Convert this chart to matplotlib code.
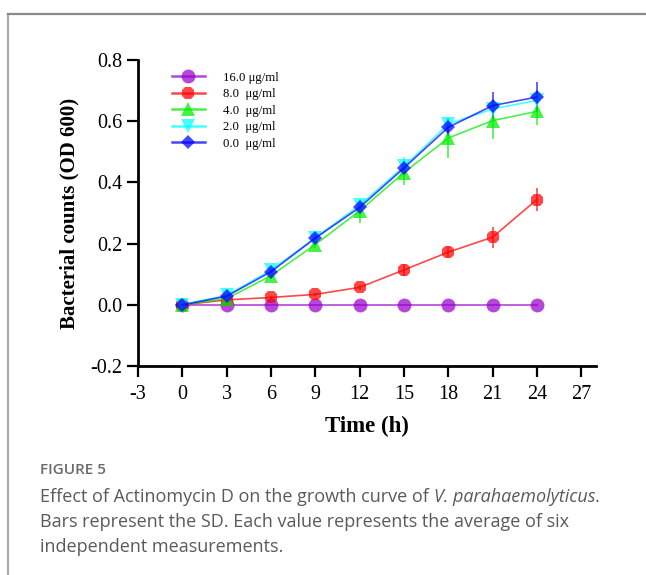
import matplotlib
matplotlib.use("Agg")
import matplotlib.pyplot as plt
from matplotlib.lines import Line2D

# Dados (media +- DP)
time_h = [0, 3, 6, 9, 12, 15, 18, 21, 24]
labels = ["16.0 μg/ml", "8.0  μg/ml", "4.0  μg/ml", "2.0  μg/ml", "0.0  μg/ml"]

od_16 = [0.0, 0.0, 0.0, 0.0, 0.0, 0.0, 0.0, 0.0, 0.0]
od_8 = [0.0, 0.016, 0.024, 0.034, 0.057, 0.114, 0.172, 0.221, 0.344]
od_4 = [0.0, 0.020, 0.095, 0.197, 0.307, 0.432, 0.545, 0.602, 0.632]
od_2 = [0.0, 0.031, 0.113, 0.219, 0.325, 0.452, 0.590, 0.640, 0.668]
od_0 = [0.0, 0.028, 0.108, 0.218, 0.318, 0.447, 0.580, 0.651, 0.679]

sd_16 = [0.0, 0.0, 0.0, 0.0, 0.0, 0.0, 0.0, 0.0, 0.0]
sd_8 = [0.0, 0.003, 0.005, 0.005, 0.008, 0.020, 0.020, 0.034, 0.038]
sd_4 = [0.0, 0.005, 0.008, 0.010, 0.040, 0.040, 0.065, 0.060, 0.045]
sd_2 = [0.0, 0.005, 0.008, 0.010, 0.020, 0.030, 0.020, 0.025, 0.030]
sd_0 = [0.0, 0.005, 0.008, 0.010, 0.015, 0.020, 0.030, 0.045, 0.050]

x_ticks = [-3, 0, 3, 6, 9, 12, 15, 18, 21, 24, 27]
y_ticks = [-0.2, 0.0, 0.2, 0.4, 0.6, 0.8]

series = [
    (od_16, sd_16, "#9900CC", "o", 10),
    (od_8, sd_8, "#FF0000", "8", 10),
    (od_4, sd_4, "#00EE00", "^", 9.5),
    (od_2, sd_2, "#00FFFF", "v", 9.5),
    (od_0, sd_0, "#0000FF", "D", 7),
]

serif = ["Liberation Serif", "DejaVu Serif"]
W, H = 646, 575

fig = plt.figure(figsize=(6.46, 5.75), dpi=100)
ax = fig.add_axes([138 / W, 1 - 366 / H, (596 - 138) / W, (366 - 60) / H])

handles = []
for (y, err, cor, mk, ms), lab in zip(series, labels):
    ax.errorbar(time_h, y, yerr=err, color=cor, marker=mk, markersize=ms,
                linewidth=1.2, elinewidth=1.2, capsize=4.5, capthick=1.2,
                alpha=0.72, markeredgewidth=0, label=lab)
    handles.append(Line2D([], [], color=cor, marker=mk, markersize=ms,
                          linewidth=1.8, alpha=0.72, markeredgewidth=0))

ax.set_xlim(-3, 28)
ax.set_ylim(-0.2, 0.8)
ax.set_xticks(x_ticks)
ax.set_yticks(y_ticks)
ax.set_xticklabels([str(v) for v in x_ticks])
ax.set_yticklabels(["%.1f" % v for v in y_ticks])

for s in ["top", "right"]:
    ax.spines[s].set_visible(False)
for s in ["left", "bottom"]:
    ax.spines[s].set_linewidth(2.0)

ax.tick_params(direction="out", length=8, width=1.6, labelsize=14.5)
ax.tick_params(axis="x", pad=6)
ax.tick_params(axis="y", pad=3)
for t in ax.get_xticklabels() + ax.get_yticklabels():
    t.set_family(serif)

ax.set_xlabel("Time (h)", fontsize=16.5, fontweight="bold", family=serif, labelpad=8)
ax.set_ylabel("Bacterial counts (OD 600)", fontsize=15, fontweight="bold", family=serif, labelpad=8)

leg = ax.legend(handles, labels, loc="upper left", bbox_to_anchor=(160 / W, 1 - 60 / H),
                bbox_transform=fig.transFigure,
                frameon=False, handlelength=2.6, handletextpad=1.4,
                labelspacing=0.36, prop={"family": serif, "size": 9.2})

# Moldura cinza da pagina
fig.add_artist(Line2D([8 / W, 8 / W], [0, 1 - 14 / H], color="#AAAAAA", linewidth=1.6))
fig.add_artist(Line2D([8 / W, 1], [1 - 14 / H, 1 - 14 / H], color="#8A8A8A", linewidth=1.6))

# Legenda da figura
sans = ["Open Sans", "DejaVu Sans"]
fs = 13
x0 = 40 / W
fig.text(x0, 1 - 470 / H, "FIGURE 5", fontsize=11, fontweight="semibold",
         color="#6A6A6A", family=sans, va="center")
renderer = fig.canvas.get_renderer()
t1 = fig.text(x0, 1 - 497 / H, "Effect of Actinomycin D on the growth curve of ",
              fontsize=fs, color="#5A5A5A", family=sans, va="center")
bb = t1.get_window_extent(renderer)
t_it = fig.text(bb.x1 / fig.bbox.width, 1 - 497 / H, "V. parahaemolyticus",
                fontsize=fs, color="#5A5A5A", family=sans, style="italic", va="center")
bb2 = t_it.get_window_extent(renderer)
fig.text(bb2.x1 / fig.bbox.width, 1 - 497 / H, ".",
         fontsize=fs, color="#5A5A5A", family=sans, va="center")
fig.text(x0, 1 - 522 / H, "Bars represent the SD. Each value represents the average of six",
         fontsize=fs, color="#5A5A5A", family=sans, va="center")
fig.text(x0, 1 - 547 / H, "independent measurements.",
         fontsize=fs, color="#5A5A5A", family=sans, va="center")

fig.savefig("out.png", dpi=100)
